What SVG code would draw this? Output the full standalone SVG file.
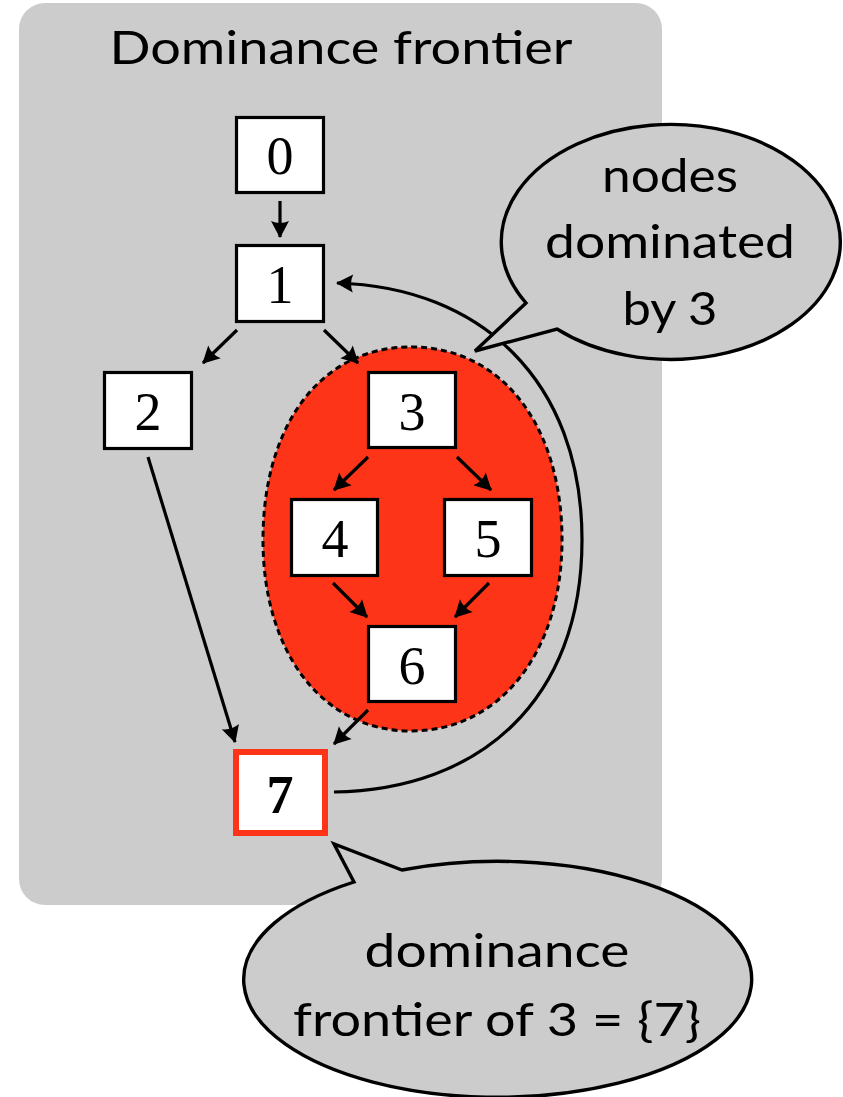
<svg xmlns="http://www.w3.org/2000/svg" width="843" height="1097" viewBox="0 0 843 1097">
  <style>
    .panel { fill: #cccccc; }
    .node rect { fill: #ffffff; stroke: #000000; stroke-width: 3.2; }
    .node text { font-family: "Liberation Serif", serif; font-size: 54px; text-anchor: middle; fill: #000000; }
    .edge { fill: none; stroke: #000000; stroke-width: 3.2; marker-end: url(#arrow); }
    .label { font-family: "Lato", "Liberation Sans", sans-serif; font-size: 46px; text-anchor: middle; fill: #000000; }
    .bubble { fill: #cccccc; stroke: #000000; stroke-width: 3.4; stroke-linejoin: miter; }
  </style>
  <defs>
    <marker id="arrow" viewBox="-18 -10 20 20" markerUnits="userSpaceOnUse" markerWidth="20" markerHeight="20" refX="0" refY="0" orient="auto">
      <path d="M1,0 L-16,-9 Q-12,0 -16,9 Z" fill="#000000"/>
    </marker>
  </defs>

  <!-- background panel -->
  <rect class="panel" x="19" y="3" width="643" height="902" rx="26" ry="26"/>
  <text class="label" x="341" y="64" textLength="463" lengthAdjust="spacingAndGlyphs">Dominance frontier</text>

  <!-- region dominated by node 3 -->
  <path id="dominated-region" d="M411,347 C503,347 562,427 562,540 C562,652 500,731 411,731 C322,731 263,652 263,540 C263,427 319,347 411,347 Z" fill="#fd3417" stroke="#000000" stroke-width="3" stroke-dasharray="6 4"/>

  <!-- connectors -->
  <g id="edges">
    <line class="edge" x1="280" y1="201" x2="280" y2="237"/>
    <line class="edge" x1="237" y1="330" x2="203" y2="363"/>
    <line class="edge" x1="324" y1="330" x2="358" y2="363"/>
    <line class="edge" x1="368" y1="457" x2="334" y2="490"/>
    <line class="edge" x1="457" y1="457" x2="491" y2="490"/>
    <line class="edge" x1="333" y1="583" x2="367" y2="617"/>
    <line class="edge" x1="489" y1="583" x2="455" y2="617"/>
    <line class="edge" x1="368" y1="710" x2="334" y2="744"/>
    <line class="edge" x1="148" y1="457" x2="235" y2="742"/>
    <path class="edge" d="M334,792 C480,790 582,700 582,540 C582,380 480,287 337,283"/>
  </g>

  <!-- nodes -->
  <g id="node-0" class="node"><rect x="236.5" y="117.5" width="87" height="75"/><text x="280" y="174">0</text></g>
  <g id="node-1" class="node"><rect x="236.5" y="245.5" width="87" height="76"/><text x="280" y="303">1</text></g>
  <g id="node-2" class="node"><rect x="104.5" y="372.5" width="87" height="76"/><text x="148" y="430">2</text></g>
  <g id="node-3" class="node"><rect x="368.5" y="372.5" width="87" height="75"/><text x="412" y="430">3</text></g>
  <g id="node-4" class="node"><rect x="291.5" y="499.5" width="86" height="76"/><text x="335" y="557">4</text></g>
  <g id="node-5" class="node"><rect x="444.5" y="499.5" width="87" height="76"/><text x="488" y="557">5</text></g>
  <g id="node-6" class="node"><rect x="368.5" y="626.5" width="87" height="75"/><text x="412" y="684">6</text></g>
  <g id="node-7" class="node"><rect x="236" y="752" width="89" height="81" style="stroke:#fd3417;stroke-width:6"/><text x="280" y="813" font-weight="bold">7</text></g>

  <!-- callout: nodes dominated by 3 -->
  <g id="callout-dominated">
    <path class="bubble" d="M526,303 L475,351 L557,329 A169.5,117.5 0 1 0 526,303 Z"/>
    <text class="label" x="670" y="192" textLength="136" lengthAdjust="spacingAndGlyphs">nodes</text>
    <text class="label" x="670" y="258" textLength="250" lengthAdjust="spacingAndGlyphs">dominated</text>
    <text class="label" x="670" y="325" textLength="95" lengthAdjust="spacingAndGlyphs">by 3</text>
  </g>

  <!-- callout: dominance frontier of 3 -->
  <g id="callout-frontier">
    <path class="bubble" d="M354,882 L334,844 L402,870 A254,118 0 1 1 354,882 Z"/>
    <text class="label" x="497" y="967" textLength="265" lengthAdjust="spacingAndGlyphs">dominance</text>
    <text class="label" x="497" y="1036" textLength="408" lengthAdjust="spacingAndGlyphs">frontier of 3 = {7}</text>
  </g>
</svg>
